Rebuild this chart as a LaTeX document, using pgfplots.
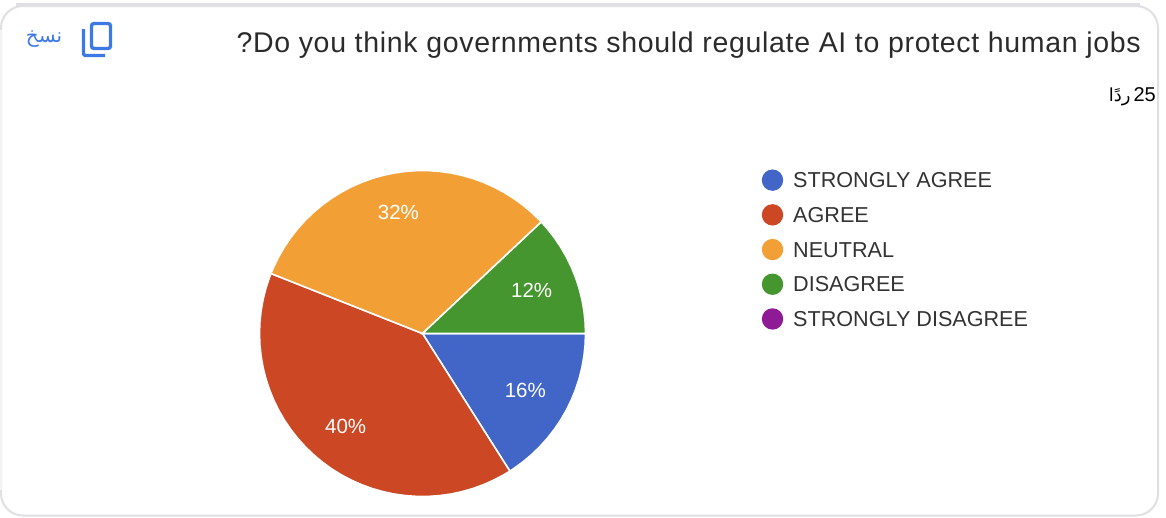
\documentclass[border=0pt]{standalone}
\usepackage{fontspec}
\setmainfont{Liberation Sans}
\newfontfamily\arabicfont[Script=Arabic]{DejaVu Sans}
\newfontfamily\titlefont[LetterSpace=2.4]{Liberation Sans}
\TeXXeTstate=1
\usepackage{pgfplots}
\pgfplotsset{compat=1.18}
\usepgfplotslibrary{polar}
\definecolor{sblue}{HTML}{4266C8}
\definecolor{sred}{HTML}{CC4724}
\definecolor{sorange}{HTML}{F29F36}
\definecolor{sgreen}{HTML}{46962F}
\definecolor{spurple}{HTML}{8E1A96}
\definecolor{iconblue}{HTML}{3C78E6}
\definecolor{cardline}{HTML}{DFDFE4}
\definecolor{cardfaint}{HTML}{F3F3F5}
\definecolor{titlecol}{HTML}{2B2B2B}
\definecolor{legcol}{HTML}{333333}
\begin{document}
\begin{tikzpicture}
\begin{scope}[x=1pt,y=-1pt]
\path[use as bounding box] (0,0) rectangle (1166,517);
% card above and card outline
\fill[cardline] (16,3) rectangle (1140,5.5);
\draw[cardline,line width=2pt,rounded corners=22pt] (1,6) rectangle (1158,515.5);
\draw[cardfaint,line width=2.2pt] (1,30) -- (1,490);
% copy icon
\draw[iconblue,line width=3.4pt,rounded corners=2.5pt] (91.5,23.5) rectangle (110.5,48.5);
\draw[iconblue,line width=3.4pt,rounded corners=1.5pt] (83.5,29) -- (83.5,55.5) -- (105,55.5);
\node[text=iconblue,font=\arabicfont\fontsize{20}{20}\selectfont,anchor=center] at (44,39) {\beginR نسخ\endR};
% title
\node[text=titlecol,font=\titlefont\fontsize{28.5}{30}\selectfont,anchor=east,inner sep=0pt] at (1141,45) {?Do you think governments should regulate AI to protect human jobs};
\node[text=black,font=\fontsize{20}{20}\selectfont,anchor=east,inner sep=0pt] at (1156,97) {{\arabicfont\fontsize{18}{18}\selectfont\beginR ردًا\endR}\kern3pt 25};
\end{scope}
\begin{polaraxis}[
  at={(422.5pt,-333.5pt)},anchor=center,
  scale only axis,width=326pt,height=326pt,
  hide axis,clip=false,
  xmin=0,xmax=360,ymin=0,ymax=1,
  legend cell align=left,
  legend style={at={(1.531,1.01)},anchor=north west,draw=none,fill=none,
    font=\fontsize{21.6}{21.6}\selectfont,text=legcol,
    nodes={inner sep=0pt,text depth=0pt,text height=15pt},
    row sep=13.3pt,column sep=10pt},
  legend image code/.code={\path[#1,draw=none] (0pt,0pt) circle (10.7pt);},
]
\addplot[fill=sblue,draw=white,line width=1.6pt] coordinates {(0,0) (302.4,1) (304,1) (308,1) (312,1) (316,1) (320,1) (324,1) (328,1) (332,1) (336,1) (340,1) (344,1) (348,1) (352,1) (356,1) (360,1)} -- cycle;
\addlegendentry{STRONGLY AGREE}
\addplot[fill=sred,draw=white,line width=1.6pt] coordinates {(0,0) (158.4,1) (160,1) (164,1) (168,1) (172,1) (176,1) (180,1) (184,1) (188,1) (192,1) (196,1) (200,1) (204,1) (208,1) (212,1) (216,1) (220,1) (224,1) (228,1) (232,1) (236,1) (240,1) (244,1) (248,1) (252,1) (256,1) (260,1) (264,1) (268,1) (272,1) (276,1) (280,1) (284,1) (288,1) (292,1) (296,1) (300,1) (302.4,1)} -- cycle;
\addlegendentry{AGREE}
\addplot[fill=sorange,draw=white,line width=1.6pt] coordinates {(0,0) (43.2,1) (44,1) (48,1) (52,1) (56,1) (60,1) (64,1) (68,1) (72,1) (76,1) (80,1) (84,1) (88,1) (92,1) (96,1) (100,1) (104,1) (108,1) (112,1) (116,1) (120,1) (124,1) (128,1) (132,1) (136,1) (140,1) (144,1) (148,1) (152,1) (156,1) (158.4,1)} -- cycle;
\addlegendentry{NEUTRAL}
\addplot[fill=sgreen,draw=white,line width=1.6pt] coordinates {(0,0) (0,1) (4,1) (8,1) (12,1) (16,1) (20,1) (24,1) (28,1) (32,1) (36,1) (40,1) (43.2,1)} -- cycle;
\addlegendentry{DISAGREE}
\addplot[fill=spurple,draw=none] coordinates {(0,0)};
\addlegendentry{STRONGLY DISAGREE}
\node[text=white,font=\fontsize{20.5}{20.5}\selectfont] at (axis cs:331.2,0.72) {16\%};
\node[text=white,font=\fontsize{20.5}{20.5}\selectfont] at (axis cs:230.4,0.74) {40\%};
\node[text=white,font=\fontsize{20.5}{20.5}\selectfont] at (axis cs:101.2,0.76) {32\%};
\node[text=white,font=\fontsize{20.5}{20.5}\selectfont] at (axis cs:21.6,0.72) {12\%};
\end{polaraxis}
\end{tikzpicture}
\end{document}
